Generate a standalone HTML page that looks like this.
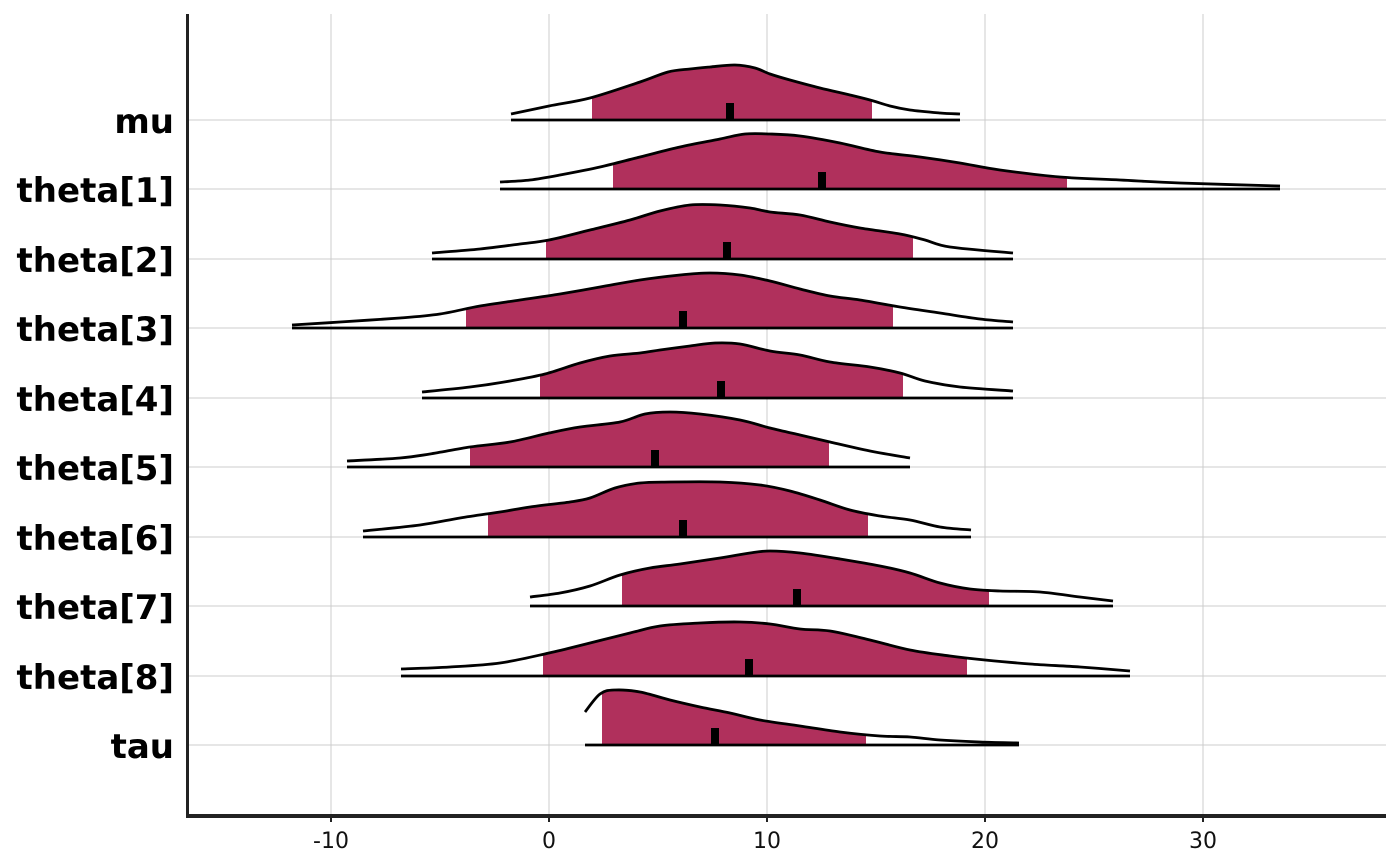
<!DOCTYPE html>
<html><head><meta charset="utf-8"><style>
html,body{margin:0;padding:0;background:#fff;}
svg{display:block;font-family:"DejaVu Sans","Liberation Sans",sans-serif;}
</style></head><body>
<svg id="s" width="1400" height="866" viewBox="0 0 1400 866" xmlns="http://www.w3.org/2000/svg">
<g stroke="#cccccc" stroke-width="1">
<line x1="331" y1="14" x2="331" y2="815"/><line x1="549" y1="14" x2="549" y2="815"/><line x1="767" y1="14" x2="767" y2="815"/><line x1="985" y1="14" x2="985" y2="815"/><line x1="1203" y1="14" x2="1203" y2="815"/>
<line x1="187" y1="120" x2="1386" y2="120"/><line x1="187" y1="189" x2="1386" y2="189"/><line x1="187" y1="259" x2="1386" y2="259"/><line x1="187" y1="328" x2="1386" y2="328"/><line x1="187" y1="398" x2="1386" y2="398"/><line x1="187" y1="467" x2="1386" y2="467"/><line x1="187" y1="537" x2="1386" y2="537"/><line x1="187" y1="606" x2="1386" y2="606"/><line x1="187" y1="676" x2="1386" y2="676"/><line x1="187" y1="745" x2="1386" y2="745"/>
</g>
<g id="rows"></g>
<line x1="187.5" y1="14" x2="187.5" y2="816" stroke="#222" stroke-width="3"/>
<line x1="186" y1="816" x2="1386" y2="816" stroke="#222" stroke-width="4"/>
<g stroke="#222" stroke-width="2"><line x1="331" y1="816" x2="331" y2="822"/><line x1="549" y1="816" x2="549" y2="822"/><line x1="767" y1="816" x2="767" y2="822"/><line x1="985" y1="816" x2="985" y2="822"/><line x1="1203" y1="816" x2="1203" y2="822"/></g>
<g font-size="22" fill="#111" text-anchor="middle">
<text x="331" y="848">-10</text><text x="549" y="848">0</text><text x="767" y="848">10</text><text x="985" y="848">20</text><text x="1203" y="848">30</text></g>
<g font-size="34" font-weight="bold" fill="#000" text-anchor="end">
<text x="174" y="133">mu</text><text x="174" y="202">theta[1]</text><text x="174" y="272">theta[2]</text><text x="174" y="341">theta[3]</text><text x="174" y="411">theta[4]</text><text x="174" y="480">theta[5]</text><text x="174" y="550">theta[6]</text><text x="174" y="619">theta[7]</text><text x="174" y="689">theta[8]</text><text x="174" y="758">tau</text></g>
</svg>
<script>
var R=[
[120,592,872,730,[[511,114],[549,106],[590,98],[640,82],[668,72],[690,69],[710,67],[735,65],[755,68],[770,74],[790,80],[820,88],[850,95],[870,100],[890,106],[910,110],[940,113],[960,114]]],
[189,613,1067,822,[[500,182],[530,180],[560,175],[600,167],[640,157],[680,147],[720,139],[745,134],[770,134],[800,136],[840,143],[880,152],[920,157],[960,163],[1000,170],[1060,177],[1120,180],[1180,183],[1280,186]]],
[259,546,913,727,[[432,253],[480,249],[520,244],[549,240],[590,230],[630,220],[660,211],[690,205],[720,205],[750,208],[770,212],[800,215],[830,222],[860,228],[900,234],[925,240],[950,247],[1013,253]]],
[328,466,893,683,[[292,325],[340,322],[400,318],[440,314],[480,306],[520,300],[560,294],[600,287],[640,280],[680,275],[710,273],[740,275],[770,281],[800,289],[830,296],[860,300],[900,307],[940,313],[980,319],[1013,322]]],
[398,540,903,721,[[422,392],[470,387],[510,381],[545,374],[580,363],[610,356],[640,353],[660,350],[690,346],[715,343],[740,344],[770,351],[800,355],[830,362],[870,367],[900,373],[925,381],[960,387],[1013,391]]],
[467,470,829,655,[[347,461],[400,458],[430,454],[470,447],[510,442],[549,433],[580,427],[620,422],[645,414],[670,412],[700,414],[740,420],[770,428],[800,435],[830,442],[870,451],[910,458]]],
[537,488,868,683,[[363,531],[420,525],[460,518],[500,512],[530,507],[570,502],[590,498],[615,488],[640,483],[670,482],[720,482],[760,485],[790,491],[820,500],[850,510],[880,516],[910,520],[940,527],[971,530]]],
[606,622,989,797,[[530,597],[560,593],[590,586],[620,575],[650,568],[680,564],[720,558],[750,553],[770,551],[800,553],[840,559],[880,566],[910,573],[940,583],[970,589],[1000,591],[1040,592],[1080,597],[1113,601]]],
[676,543,967,749,[[401,669],[450,667],[500,663],[549,653],[590,643],[630,633],[660,626],[700,623],[740,622],[770,624],[800,629],[830,631],[870,640],[910,650],[950,656],[985,660],[1030,664],[1080,667],[1130,671]]],
[745,602,866,715,[[585,712],[600,694],[615,690],[640,692],[670,700],[700,707],[730,713],[760,720],[800,726],[840,732],[880,736],[910,737],[940,740],[980,742],[1019,743]]]
];
function smooth(p){var d="M"+p[0][0]+","+p[0][1];for(var i=0;i<p.length-1;i++){var a=p[i-1]||p[i],b=p[i],c=p[i+1],e=p[i+2]||c;
d+=" C"+(b[0]+(c[0]-a[0])/6).toFixed(1)+","+(b[1]+(c[1]-a[1])/6).toFixed(1)+" "+(c[0]-(e[0]-b[0])/6).toFixed(1)+","+(c[1]-(e[1]-b[1])/6).toFixed(1)+" "+c[0]+","+c[1];}return d;}
var h="";
R.forEach(function(r,i){var y=r[0],p=r[4],c=smooth(p),x0=p[0][0],x1=p[p.length-1][0];
h+='<clipPath id="c'+i+'"><rect x="'+r[1]+'" y="0" width="'+(r[2]-r[1])+'" height="866"/></clipPath>';
h+='<path d="'+c+' L'+x1+','+y+' L'+x0+','+y+' Z" fill="#B0305C" clip-path="url(#c'+i+')"/>';
h+='<path d="'+c+'" fill="none" stroke="#000" stroke-width="2.8"/>';
h+='<line x1="'+x0+'" y1="'+y+'" x2="'+x1+'" y2="'+y+'" stroke="#000" stroke-width="2.8"/>';
h+='<rect x="'+(r[3]-4)+'" y="'+(y-17)+'" width="8" height="17" fill="#000"/>';});
document.getElementById("rows").innerHTML=h;
</script>
</body></html>
